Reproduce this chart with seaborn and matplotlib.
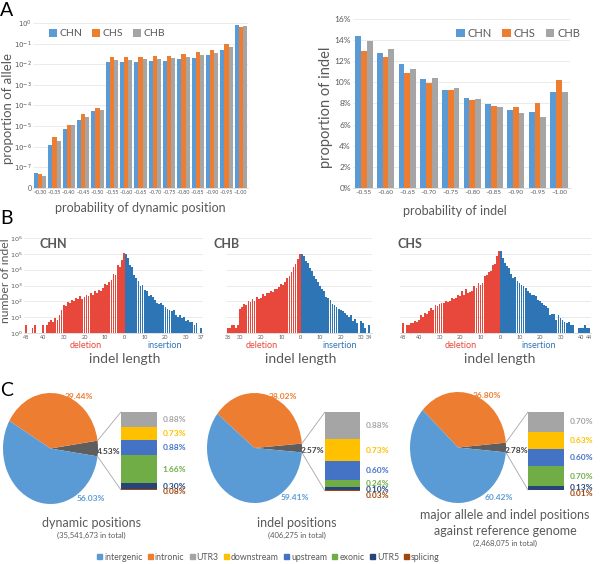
import numpy as np
import pandas as pd
import matplotlib
matplotlib.use("Agg")
import matplotlib.pyplot as plt
import matplotlib.transforms as mtrans
from matplotlib.patches import Patch, ConnectionPatch
from matplotlib.ticker import FixedLocator, NullLocator
import seaborn as sns

# ---------------- data ----------------
pops = ["CHN", "CHS", "CHB"]
pop_colors = ["#5B9BD5", "#ED7D31", "#A5A5A5"]

# A left: proportion of allele per probability of dynamic position
dyn_bins = ["<0.30", "~0.35", "~0.40", "~0.45", "~0.50", "~0.55", "~0.60", "~0.65",
            "~0.70", "~0.75", "~0.80", "~0.85", "~0.90", "~0.95", "~1.00"]
dyn_chn = [5.5e-8, 1.2e-6, 7.2e-6, 2.0e-5, 5.2e-5, 0.0126, 0.0126, 0.013,
           0.014, 0.015, 0.017, 0.021, 0.028, 0.05, 0.83]
dyn_chs = [4.7e-8, 2.9e-6, 1.15e-5, 3.9e-5, 7.9e-5, 0.022, 0.022, 0.023,
           0.025, 0.026, 0.032, 0.039, 0.05, 0.092, 0.66]
dyn_chb = [3.8e-8, 1.8e-6, 1.15e-5, 2.8e-5, 6.3e-5, 0.0166, 0.0166, 0.018,
           0.019, 0.02, 0.023, 0.028, 0.036, 0.068, 0.74]

# A right: proportion of indel (%) per probability of indel
indel_bins = ["~0.55", "~0.60", "~0.65", "~0.70", "~0.75", "~0.80", "~0.85", "~0.90", "~0.95", "~1.00"]
indel_chn = [14.4, 12.8, 11.7, 10.3, 9.3, 8.5, 7.95, 7.38, 7.2, 9.08]
indel_chs = [13.0, 12.4, 10.85, 9.97, 9.3, 8.33, 7.8, 7.63, 8.0, 10.25]
indel_chb = [13.9, 13.2, 11.3, 10.4, 9.46, 8.4, 7.7, 7.1, 6.75, 9.08]

# B: number of indel by length (deletion length 1.., insertion length 1..)
chn_del = [112000, 42700, 14100, 18600, 4790, 5370, 2340, 1660, 1120, 1230,
           692, 468, 550, 339, 427, 263, 339, 209, 263, 178,
           148, 209, 148, 162, 100, 126, 78, 91, 48, 62,
           30, 14, 7, 9, 5, 7, 5, 3, 0, 3,
           0, 0, 0, 3, 2, 0, 0, 3]
chn_ins = [98000, 55000, 20900, 14100, 4790, 2950, 2000, 1000, 1120, 550,
           427, 229, 263, 178, 126, 78, 68, 78, 56, 42,
           35, 30, 26, 30, 14, 11, 13, 9, 10, 6,
           7, 5, 5, 3, 4, 0, 2]
chb_del = [100000, 50000, 22400, 14100, 7080, 3980, 2820, 1780, 1120, 1260,
           794, 631, 562, 398, 447, 316, 355, 224, 282, 158,
           141, 178, 112, 141, 89, 100, 63, 71, 45, 32,
           3, 2, 3, 3, 2, 2]
chb_ins = [100000, 70800, 35500, 25100, 12600, 7940, 3980, 2510, 1580, 891,
           631, 447, 200, 158, 126, 71, 56, 45, 35, 28,
           25, 18, 14, 11, 13, 6, 8, 4, 0, 6,
           4, 2, 0, 3]
chs_del = [145000, 69000, 22900, 20000, 7760, 7080, 4790, 3800, 1480, 1050,
           1480, 708, 912, 437, 380, 347, 562, 269, 437, 214,
           269, 151, 132, 166, 112, 89, 105, 79, 78, 68,
           48, 62, 30, 38, 23, 16, 18, 11, 14, 7,
           5, 6, 4, 4, 3, 3, 0, 4]
chs_ins = [145000, 55000, 26300, 16200, 12600, 5370, 2950, 3310, 1820, 1450,
           1120, 891, 692, 468, 339, 263, 263, 209, 126, 110,
           78, 62, 48, 38, 14, 16, 16, 7, 14, 9,
           7, 5, 4, 5, 3, 3, 0, 0, 2, 2,
           2, 3, 2, 2]

# C: genomic regions (%)
major_regions = ["intergenic", "intronic"]
dyn_pie = [56.03, 39.44, 4.53]
indel_pie = [59.41, 38.02, 2.57]
ref_pie = [60.42, 36.80, 2.78]
minor_regions = ["UTR3", "downstream", "upstream", "exonic", "UTR5", "splicing"]
dyn_minor = [0.88, 0.73, 0.88, 1.66, 0.30, 0.08]
indel_minor = [0.88, 0.73, 0.60, 0.24, 0.10, 0.03]
ref_minor = [0.70, 0.63, 0.60, 0.70, 0.13, 0.01]

region_colors = {"intergenic": "#5B9BD5", "intronic": "#ED7D31", "UTR3": "#A5A5A5",
                 "downstream": "#FFC000", "upstream": "#4472C4", "exonic": "#70AD47",
                 "UTR5": "#264478", "splicing": "#9E480E"}
other_color = "#5E5E5E"
GREY = "#595959"
RED = "#E8473B"
BLUE = "#2E75B6"

# ---------------- figure ----------------
sns.set_theme(style="white")
plt.rcParams["font.family"] = ["Lato", "DejaVu Sans"]

W, H = 600, 564
fig = plt.figure(figsize=(W / 100, H / 100), dpi=100)


def box(l, t, r, b):
    return [l / W, 1 - b / H, (r - l) / W, (b - t) / H]


def ftext(x, y, s, **kw):
    kw.setdefault("ha", "center")
    kw.setdefault("va", "center")
    kw.setdefault("color", GREY)
    fig.text(x / W, 1 - y / H, s, **kw)


def style_axis(ax):
    for s in ["left", "right", "top"]:
        ax.spines[s].set_visible(False)
    ax.spines["bottom"].set_color("#D9D9D9")
    ax.spines["bottom"].set_linewidth(0.6)
    ax.yaxis.grid(True, color="#E8E8E8", lw=0.6)
    ax.xaxis.grid(False)
    ax.set_axisbelow(True)
    ax.tick_params(length=0, colors=GREY, pad=1.5)


# ---- A left ----
axA1 = fig.add_axes(box(33, 23, 248, 188))
dfA1 = pd.DataFrame({"bin": dyn_bins * 3,
                     "pop": np.repeat(pops, len(dyn_bins)),
                     "value": dyn_chn + dyn_chs + dyn_chb})
sns.barplot(data=dfA1, x="bin", y="value", hue="pop", order=dyn_bins, hue_order=pops,
            palette=pop_colors, saturation=1, errorbar=None, width=0.85, linewidth=0,
            ax=axA1)
axA1.set_yscale("log")
axA1.set_ylim(1e-8, 1)
axA1.yaxis.set_major_locator(FixedLocator([10.0 ** k for k in range(-8, 1)]))
axA1.yaxis.set_minor_locator(NullLocator())
axA1.set_yticklabels(["0"] + [rf"$10^{{{k}}}$" for k in range(-7, 1)])
style_axis(axA1)
axA1.tick_params(axis="x", labelsize=3.8)
axA1.tick_params(axis="y", labelsize=5, pad=1)
axA1.set_xlabel("probability of dynamic position", fontsize=9, color=GREY)
axA1.xaxis.set_label_coords(0.5, -0.085)
axA1.set_ylabel("proportion of allele", fontsize=9.5, color=GREY)
axA1.yaxis.set_label_coords(-0.09, 0.48)
h, l = axA1.get_legend_handles_labels()
axA1.legend(h, l, loc="center left", bbox_to_anchor=(0.03, 0.935), ncol=3, frameon=False,
            fontsize=7.5, handlelength=0.75, handleheight=0.75, handletextpad=0.3,
            columnspacing=0.9, labelcolor=GREY)

# ---- A right ----
axA2 = fig.add_axes(box(353, 19, 570, 188))
dfA2 = pd.DataFrame({"bin": indel_bins * 3,
                     "pop": np.repeat(pops, len(indel_bins)),
                     "value": [v / 100 for v in indel_chn + indel_chs + indel_chb]})
sns.barplot(data=dfA2, x="bin", y="value", hue="pop", order=indel_bins, hue_order=pops,
            palette=pop_colors, saturation=1, errorbar=None, width=0.8, linewidth=0,
            ax=axA2)
axA2.set_ylim(0, 0.16)
axA2.set_yticks(np.arange(0, 0.161, 0.02))
axA2.set_yticklabels([f"{v:.0%}" for v in np.arange(0, 0.161, 0.02)])
style_axis(axA2)
axA2.tick_params(axis="x", labelsize=4.5)
axA2.tick_params(axis="y", labelsize=6)
axA2.set_xlabel("probability of indel", fontsize=9, color=GREY)
axA2.xaxis.set_label_coords(0.47, -0.1)
axA2.set_ylabel("proportion of indel", fontsize=10.5, color=GREY)
axA2.yaxis.set_label_coords(-0.092, 0.48)
h, l = axA2.get_legend_handles_labels()
axA2.legend(h, l, loc="center left", bbox_to_anchor=(0.43, 0.915), ncol=3, frameon=False,
            fontsize=8, handlelength=0.75, handleheight=0.75, handletextpad=0.3,
            columnspacing=0.9, labelcolor=GREY)

# ---- B ----
b_panels = [("CHN", chn_del, chn_ins, (24, 203), 39),
            ("CHB", chb_del, chb_ins, (225.7, 371.6), 213),
            ("CHS", chs_del, chs_ins, (400.4, 591.4), 398)]
for k, (pop, dels, ins, (left, right), title_x) in enumerate(b_panels):
    ax = fig.add_axes(box(left, 238, right, 333))
    n_del, n_ins = len(dels), len(ins)
    del_pos = [-(d + 0.5) for d in range(n_del)]
    ins_pos = [i + 0.5 for i in range(n_ins)]
    sns.barplot(x=del_pos, y=dels, native_scale=True, color=RED, width=0.88,
                saturation=1, errorbar=None, linewidth=0, ax=ax)
    sns.barplot(x=ins_pos, y=ins, native_scale=True, color=BLUE, width=0.88,
                saturation=1, errorbar=None, linewidth=0, ax=ax)
    ax.set_yscale("log")
    ax.set_ylim(1, 1e6)
    ax.set_xlim(-n_del - 0.6, n_ins + 0.6)
    ax.yaxis.set_major_locator(FixedLocator([10.0 ** e for e in range(0, 7)]))
    ax.yaxis.set_minor_locator(NullLocator())
    style_axis(ax)
    del_ticks = [n_del] + [t for t in (40, 30, 20, 10) if t < n_del]
    ins_ticks = [t for t in (10, 20, 30, 40) if t < n_ins] + [n_ins]
    ax.set_xticks([-(t - 0.5) for t in del_ticks] + [0] + [t - 0.5 for t in ins_ticks])
    ax.set_xticklabels([str(t) for t in del_ticks] + ["0"] + [str(t) for t in ins_ticks])
    ax.tick_params(axis="x", labelsize=4)
    if k == 0:
        ax.set_yticklabels([rf"$10^{{{e}}}$" for e in range(0, 7)])
        ax.tick_params(axis="y", labelsize=4.6, pad=1)
    else:
        ax.set_yticklabels([])
    ax.set_xlabel("")
    ax.set_ylabel("")
    trans = mtrans.blended_transform_factory(ax.transData, ax.transAxes)
    ax.text(-19, -0.13, "deletion", transform=trans, ha="center", va="center",
            fontsize=6.5, color=RED)
    ax.text(19, -0.13, "insertion", transform=trans, ha="center", va="center",
            fontsize=6.5, color=BLUE)
    ax.text(0, -0.27, "indel length", transform=trans, ha="center", va="center",
            fontsize=10, color=GREY)
    ftext(title_x, 244, pop, ha="left", fontsize=9, fontweight="bold")

ftext(5.5, 281, "number of indel", rotation=90, fontsize=8.8)

# ---- C ----
c_panels = [(dyn_pie, dyn_minor, (3, 393, 98, 504), (121, 412, 157, 490)),
            (indel_pie, indel_minor, (207, 393, 302, 503), (325, 412, 360, 491)),
            (ref_pie, ref_minor, (410, 392, 506, 503), (528, 412, 564, 490))]
for major, minor, pie_box, bar_box in c_panels:
    axp = fig.add_axes(box(*pie_box))
    other = major[2]
    axp.pie([other, major[1], major[0]],
            colors=[other_color, region_colors["intronic"], region_colors["intergenic"]],
            startangle=-other * 3.6 / 2, counterclock=True, radius=1,
            wedgeprops=dict(linewidth=0))
    axp.set_aspect("auto")
    axp.set_xlim(-1, 1)
    axp.set_ylim(-1, 1)
    axp.text(0.6, 0.93, f"{major[1]:.2f}%", ha="center", va="center", fontsize=6,
             color=region_colors["intronic"], fontweight="bold")
    axp.text(0.85, -0.9, f"{major[0]:.2f}%", ha="center", va="center", fontsize=6,
             color=region_colors["intergenic"], fontweight="bold")
    axp.text(1.22, -0.05, f"{other:.2f}%", ha="center", va="center", fontsize=6,
             color="#404040", fontweight="bold")

    axb = fig.add_axes(box(*bar_box))
    total = sum(minor)
    bottom = 0
    centers = []
    for name, v in zip(minor_regions[::-1], minor[::-1]):
        axb.bar(0, v, bottom=bottom, width=1, color=region_colors[name], linewidth=0)
        centers.append((bottom + v / 2) / total)
        bottom += v
    axb.set_xlim(-0.5, 0.5)
    axb.set_ylim(0, total)
    axb.axis("off")
    # labels from top to bottom, pushed apart when segments are thin
    prev = None
    for name, v, c in zip(minor_regions, minor, centers[::-1]):
        y = c if prev is None else min(c, prev - 0.075)
        prev = y
        axb.text(1.15, y, f"{v:.2f}%", transform=axb.transAxes, ha="left", va="center",
                 fontsize=6, color=region_colors[name], fontweight="bold")

    a0 = np.deg2rad(-other * 3.6 / 2)
    a1 = np.deg2rad(other * 3.6 / 2)
    for ang, yb in [(a1, 1), (a0, 0)]:
        con = ConnectionPatch(xyA=(np.cos(ang), np.sin(ang)), coordsA=axp.transData,
                              xyB=(0, yb), coordsB=axb.transAxes,
                              color="#A6A6A6", lw=0.6)
        fig.add_artist(con)

ftext(91, 523, "dynamic positions", fontsize=9)
ftext(91, 535.5, "(35,541,673 in total)", fontsize=5.5)
ftext(297, 523, "indel positions", fontsize=9)
ftext(297, 535.5, "(406,275 in total)", fontsize=5.5)
ftext(505, 515, "major allele and indel positions", fontsize=9)
ftext(505, 531, "against reference genome", fontsize=9)
ftext(505, 543, "(2,468,075 in total)", fontsize=5.5)

handles = [Patch(color=region_colors[n]) for n in major_regions + minor_regions]
fig.legend(handles, major_regions + minor_regions, loc="center",
           bbox_to_anchor=(268.5 / W, 1 - 557 / H), ncol=8, frameon=False, fontsize=6.3,
           handlelength=0.55, handleheight=0.55, handletextpad=0.25, columnspacing=0.6,
           labelcolor=GREY)

ftext(7, 10, "A", fontsize=14, color="black")
ftext(7, 219, "B", fontsize=14, color="black")
ftext(7, 390, "C", fontsize=14, color="black")

fig.savefig("out.png", dpi=100)
